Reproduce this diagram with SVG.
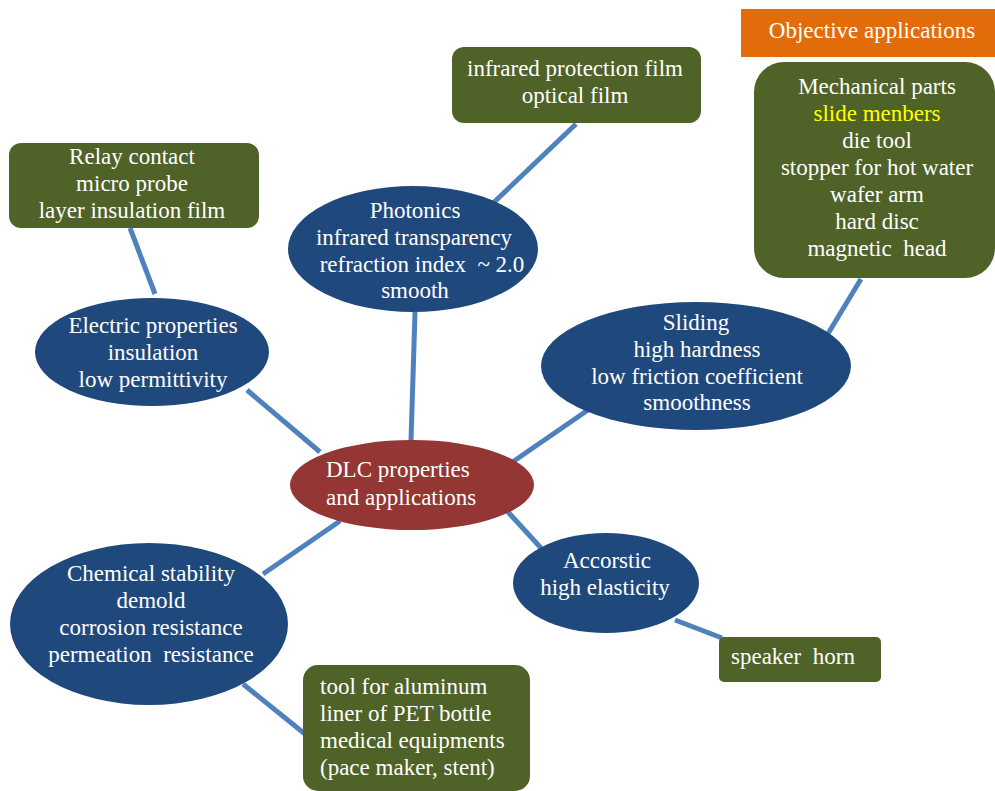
<svg xmlns="http://www.w3.org/2000/svg" width="995" height="791" viewBox="0 0 995 791" xml:space="preserve">
<style>
.blue{fill:#1F497D}
.red{fill:#943634}
.green{fill:#4F6228}
text{font-family:'Liberation Serif','Times New Roman','DejaVu Serif',serif;font-size:23px;fill:#ffffff;text-anchor:middle;white-space:pre}
text.l{text-anchor:start}
.c{stroke:#4F81BD;stroke-width:5;fill:none}
</style>
<rect width="995" height="791" fill="#ffffff"/>
<g id="connectors">
<line class="c" x1="130" y1="228" x2="155" y2="294"/>
<line class="c" x1="247" y1="390" x2="320" y2="452"/>
<line class="c" x1="415" y1="312" x2="411" y2="441"/>
<line class="c" x1="490" y1="206" x2="576" y2="124"/>
<line class="c" x1="588" y1="410" x2="511" y2="463"/>
<line class="c" x1="826" y1="337" x2="861" y2="279"/>
<line class="c" x1="508" y1="512" x2="541" y2="548"/>
<line class="c" x1="340" y1="521" x2="263" y2="574"/>
<line class="c" x1="243" y1="684" x2="305" y2="734"/>
<line class="c" x1="675" y1="620" x2="722" y2="638"/>
</g>
<g id="objective">
<rect x="741" y="9" width="254" height="48" fill="#E36C0A"/>
<text x="872" y="38">Objective applications</text>
</g>
<g id="mechanical">
<rect class="green" x="754" y="62" width="241" height="216" rx="30"/>
<text x="877" y="94">Mechanical parts</text>
<text x="877" y="121" style="fill:#FFFF00">slide menbers</text>
<text x="877" y="148">die tool</text>
<text x="877" y="175">stopper for hot water</text>
<text x="877" y="202">wafer arm</text>
<text x="877" y="229">hard disc</text>
<text x="877" y="256">magnetic  head</text>
</g>
<g id="infrared">
<rect class="green" x="452" y="47" width="249" height="76" rx="12"/>
<text x="575" y="76">infrared protection film</text>
<text x="575" y="103">optical film</text>
</g>
<g id="relay">
<rect class="green" x="9" y="143" width="250" height="85" rx="12"/>
<text x="132" y="164">Relay contact</text>
<text x="132" y="191">micro probe</text>
<text x="132" y="218">layer insulation film</text>
</g>
<g id="photonics">
<ellipse class="blue" cx="413" cy="249" rx="125" ry="63"/>
<text x="415" y="218">Photonics</text>
<text x="414" y="245">infrared transparency</text>
<text x="422" y="272">refraction index  ~ 2.0</text>
<text x="415" y="298">smooth</text>
</g>
<g id="electric">
<ellipse class="blue" cx="152" cy="352" rx="117" ry="54"/>
<text x="153" y="333">Electric properties</text>
<text x="153" y="360">insulation</text>
<text x="153" y="387">low permittivity</text>
</g>
<g id="sliding">
<ellipse class="blue" cx="696" cy="366" rx="155" ry="64"/>
<text x="696" y="330">Sliding</text>
<text x="697" y="357">high hardness</text>
<text x="697" y="384">low friction coefficient</text>
<text x="697" y="410">smoothness</text>
</g>
<g id="dlc">
<ellipse class="red" cx="412" cy="485" rx="122" ry="45"/>
<text class="l" x="326" y="477">DLC properties</text>
<text class="l" x="326" y="505">and applications</text>
</g>
<g id="chemical">
<ellipse class="blue" cx="149" cy="624" rx="139" ry="81"/>
<text x="151" y="581">Chemical stability</text>
<text x="151" y="608">demold</text>
<text x="151" y="635">corrosion resistance</text>
<text x="151" y="662">permeation  resistance</text>
</g>
<g id="tool">
<rect class="green" x="303" y="665" width="227" height="126" rx="15"/>
<text class="l" x="320" y="694">tool for aluminum</text>
<text class="l" x="320" y="721">liner of PET bottle</text>
<text class="l" x="320" y="748">medical equipments</text>
<text class="l" x="320" y="775">(pace maker, stent)</text>
</g>
<g id="accorstic">
<ellipse class="blue" cx="606" cy="583" rx="93" ry="50"/>
<text x="607" y="568">Accorstic</text>
<text x="605" y="595">high elasticity</text>
</g>
<g id="speaker">
<rect class="green" x="719" y="637" width="162" height="45" rx="5"/>
<text class="l" x="731" y="664">speaker  horn</text>
</g>
</svg>
